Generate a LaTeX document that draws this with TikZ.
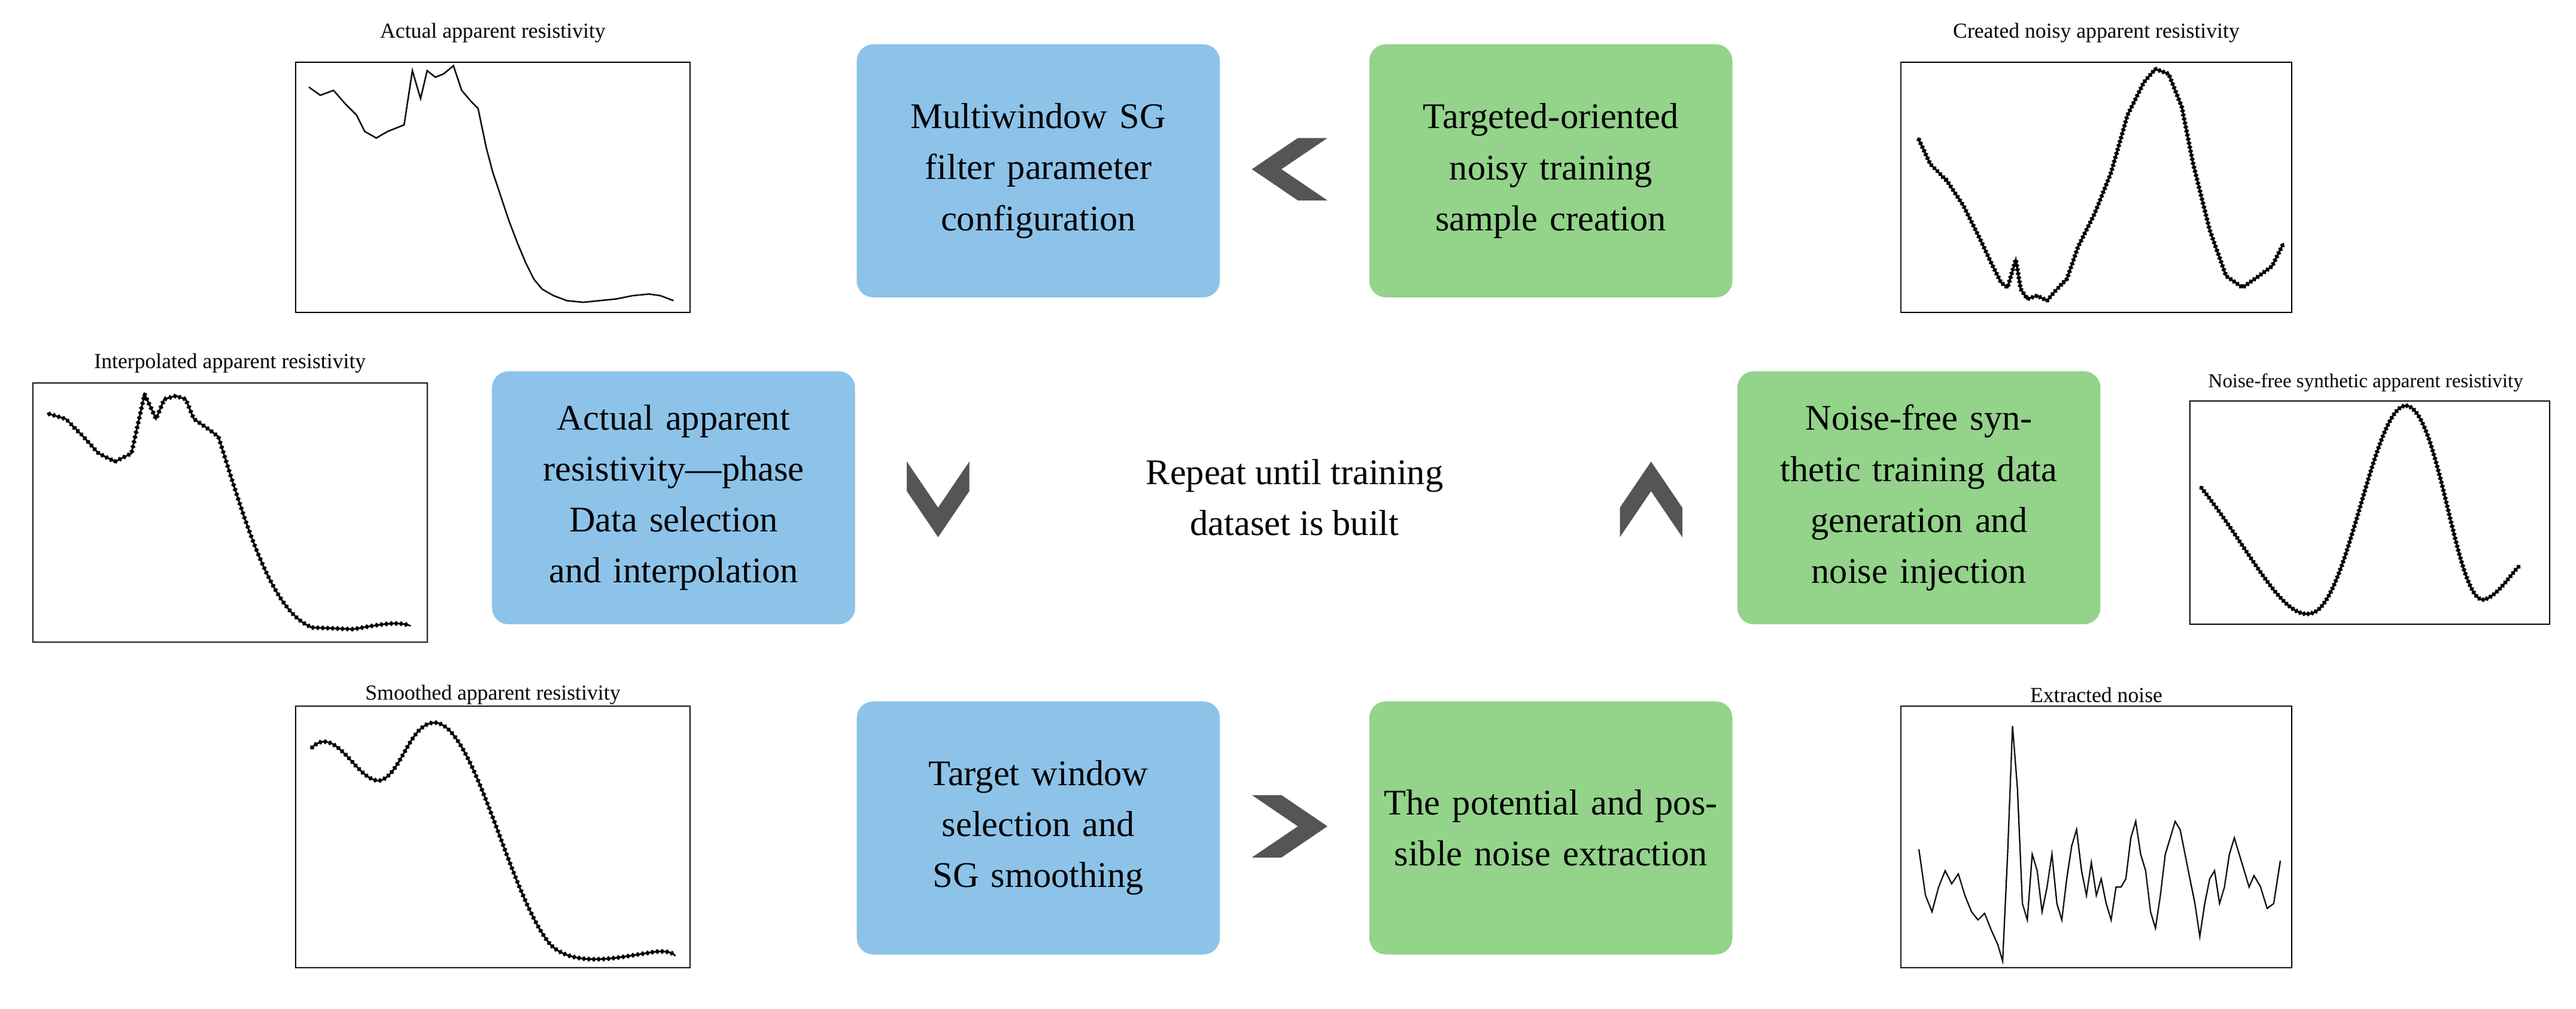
\documentclass[tikz,border=0pt]{standalone}
\usepackage{fontspec}
\setmainfont{Liberation Serif}
\usetikzlibrary{decorations.markings}
\definecolor{bl}{HTML}{8DC3E9}
\definecolor{gr}{HTML}{93D38A}
\definecolor{chev}{HTML}{555555}
\tikzset{
  stepbox/.style={fill=#1,rounded corners=10pt,minimum width=221pt,minimum height=154pt,align=center,font=\fontsize{22}{31}\selectfont,inner sep=4pt,text width=205pt},
  plotbox/.style={draw,line width=0.7pt},
  ptitle/.style={font=\fontsize{13}{15}\selectfont},
  mkcurve/.style={line width=1pt,postaction={decorate},decoration={markings,mark=between positions 0 and 1 step #1 with {\fill (0,-1.6pt)--(1.6pt,0)--(0,1.6pt)--(-1.6pt,0)--cycle;}}},
  dia/.style={mark=diamond*,mark size=2pt,line width=0.9pt},
  chevron/.pic={\fill[chev] (-23,0)--(5,-19)--(23,-19)--(-5,0)--(23,19)--(5,19)--cycle;}
}
\begin{document}
\begin{tikzpicture}[x=1pt,y=-1pt]
\useasboundingbox (0,0) rectangle (1568,614);
% boxes
\node[stepbox=bl] (msg) at (632,104) {Multiwindow SG filter parameter configuration};
\node[stepbox=gr] (tos) at (944,104) {Targeted-oriented noisy training sample creation};
\node[stepbox=bl] (aar) at (410,303) {Actual apparent resistivity—phase Data selection and interpolation};
\node[stepbox=gr] (nfs) at (1168,303) {Noise-free synthetic training data generation and noise injection};
\node[stepbox=bl] (tws) at (632,504) {Target window selection and SG smoothing};
\node[stepbox=gr] (pne) at (944,504) {The potential and possible noise extraction};
\node[align=center,font=\fontsize{22}{31}\selectfont] (rep) at (788,303) {Repeat until training\\dataset is built};
% chevrons
\pic at (785,103) {chevron};
\pic[rotate=90] at (571,304) {chevron};
\pic[rotate=-90] at (1005,304) {chevron};
\pic[rotate=180] at (785,503) {chevron};
% plot boxes
\node[ptitle] (t1) at (300,20) {Actual apparent resistivity};
\draw[plotbox] (180,38) rectangle (420,190);
\draw[dia] plot coordinates {(188,53)(195,58)(203,55)(210,63)(217,70)(222,80)(229,84)(236,80)(241,78)(246,76)(251,43)(256,60)(260,43)(265,47)(270,45)(276,40)(281,55)(287,62)(291,66)(296,90)(300,105)(305,120)(310,135)(315,148)(320,160)(325,170)(330,176)(337,180)(345,183)(355,184)(365,183)(375,182)(385,180)(395,179)(402,180)(410,183)};

\node[ptitle] (t2) at (140,221) {Interpolated apparent resistivity};
\draw[plotbox] (20,233) rectangle (260,391);
\draw[mkcurve=3pt] (30,252)--(40,255)--(50,265)--(60,276)--(70,281)--(80,276)--(88,240)--(95,255)--(100,243)--(107,241)--(113,243)--(118,255)--(128,262)--(133,266) .. controls (150,320) and (165,372) .. (190,382) -- (215,383) .. controls (232,380) and (242,378) .. (250,381);

\node[ptitle] (t3) at (300,423) {Smoothed apparent resistivity};
\draw[plotbox] (180,430) rectangle (420,589);
\draw[mkcurve=3pt] (190,455) .. controls (205,440) and (218,478) .. (232,475) .. controls (245,470) and (250,438) .. (266,440) .. controls (290,445) and (310,545) .. (335,575) .. controls (350,590) and (380,582) .. (395,580) .. controls (405,578) and (410,580) .. (411,582);

\node[ptitle] (t4) at (1276,20) {Created noisy apparent resistivity};
\draw[plotbox] (1157,38) rectangle (1395,190);
\draw[mkcurve=2.5pt] (1168,85)--(1175,100)--(1185,110)--(1195,125)--(1205,145)--(1212,160)--(1218,172)--(1222,175)--(1227,158)--(1230,176)--(1234,182)--(1240,180)--(1246,183)--(1252,176)--(1258,170)--(1265,150)--(1275,130)--(1285,105)--(1295,70)--(1305,50)--(1312,42)--(1320,45)--(1328,65)--(1335,100)--(1345,140)--(1355,168)--(1365,175)--(1375,168)--(1383,162)--(1390,148);

\node[ptitle,font=\fontsize{12}{14}\selectfont] (t5) at (1440,233) {Noise-free synthetic apparent resistivity};
\draw[plotbox] (1333,244) rectangle (1552,380);
\draw[mkcurve=2.5pt] (1340,297) .. controls (1370,335) and (1390,380) .. (1408,373) .. controls (1430,365) and (1445,245) .. (1465,247) .. controls (1485,250) and (1495,368) .. (1512,365) .. controls (1520,363) and (1528,350) .. (1533,345);

\node[ptitle] (t6) at (1276,423) {Extracted noise};
\draw[plotbox] (1157,430) rectangle (1395,589);
\draw[dia,mark size=1.7pt,line width=0.8pt] plot coordinates {(1168,517)(1172,545)(1176,555)(1180,540)(1184,530)(1188,538)(1192,532)(1196,545)(1200,555)(1204,560)(1208,556)(1212,566)(1216,575)(1219,585)(1222,520)(1225,442)(1228,480)(1231,550)(1234,560)(1237,520)(1240,530)(1243,555)(1246,540)(1249,520)(1252,550)(1255,560)(1258,535)(1261,515)(1264,505)(1267,530)(1270,545)(1273,525)(1276,545)(1279,535)(1282,550)(1285,560)(1288,540)(1291,540)(1294,535)(1297,510)(1300,500)(1303,520)(1306,530)(1309,555)(1312,565)(1315,545)(1318,520)(1321,510)(1324,500)(1327,505)(1330,520)(1333,535)(1336,550)(1339,570)(1342,550)(1345,535)(1348,530)(1351,550)(1354,540)(1357,520)(1360,510)(1363,520)(1366,530)(1369,540)(1372,533)(1376,540)(1380,553)(1384,550)(1388,524)};
\end{tikzpicture}
\end{document}
